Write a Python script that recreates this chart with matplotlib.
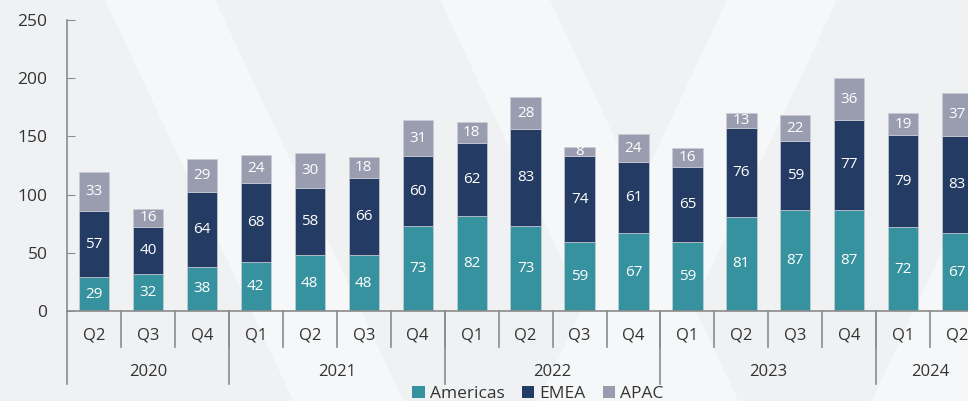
import numpy as np
import matplotlib.pyplot as plt
from matplotlib.patches import Polygon, Patch

plt.rcParams['font.family'] = ['Open Sans', 'DejaVu Sans']

quarters = ['Q2', 'Q3', 'Q4',
            'Q1', 'Q2', 'Q3', 'Q4',
            'Q1', 'Q2', 'Q3', 'Q4',
            'Q1', 'Q2', 'Q3', 'Q4',
            'Q1', 'Q2']
years = ['2020', '2021', '2022', '2023', '2024']
quarters_per_year = [3, 4, 4, 4, 2]

americas = [29, 32, 38, 42, 48, 48, 73, 82, 73, 59, 67, 59, 81, 87, 87, 72, 67]
emea = [57, 40, 64, 68, 58, 66, 60, 62, 83, 74, 61, 65, 76, 59, 77, 79, 83]
apac = [33, 16, 29, 24, 30, 18, 31, 18, 28, 8, 24, 16, 13, 22, 36, 19, 37]

series = [('Americas', americas, '#37929f'),
          ('EMEA', emea, '#243b63'),
          ('APAC', apac, '#9a9db0')]

W, H = 968, 401
bg = '#f0f1f3'
fig = plt.figure(figsize=(W / 100, H / 100), dpi=100, facecolor=bg)

# faint watermark stripes in the background
for x0, slope in [(105, 0.47), (440, 0.47), (727, -0.47), (1060, -0.47)]:
    pts = [(x0, 0), (x0 + 110, 0), (x0 + 110 + slope * H, H), (x0 + slope * H, H)]
    pts = [(px / W, 1 - py / H) for px, py in pts]
    fig.patches.append(Polygon(pts, closed=True, transform=fig.transFigure,
                               facecolor='#f6f7f8', edgecolor='none', zorder=-5))

ax = fig.add_axes([67 / W, (H - 311) / H, (W - 67) / W, 291 / H])
ax.set_facecolor('none')
ax.set_zorder(2)

x = np.arange(len(quarters))
bottom = np.zeros(len(quarters))
for name, vals, col in series:
    vals = np.array(vals)
    ax.bar(x, vals, width=0.56, bottom=bottom, color=col, label=name,
           edgecolor='#c9ccd6', linewidth=0.5, zorder=2)
    for xi, b, v in zip(x, bottom, vals):
        ax.text(xi, b + v / 2, str(v), ha='center', va='center',
                color='white', fontsize=11, zorder=3)
    bottom = bottom + vals

ax.set_xlim(-0.5, 16.2)
ax.set_ylim(0, 250)
ax.set_yticks(range(0, 251, 50))
ax.set_xticks([])
for s in ['top', 'right']:
    ax.spines[s].set_visible(False)
axis_col = '#8c8c8c'
ax.spines['left'].set_color(axis_col)
ax.spines['bottom'].set_color(axis_col)
ax.spines['left'].set_linewidth(1.2)
ax.spines['bottom'].set_linewidth(1.2)
ax.tick_params(axis='y', direction='in', length=6, color=axis_col,
               labelsize=12.5, labelcolor='#333333', pad=14)

# multi-level category axis
tr = ax.get_xaxis_transform()
q_low = -36 / 291
y_low = -73 / 291
for i in range(len(quarters)):
    ax.text(i, -25 / 291, quarters[i], transform=tr, ha='center', va='center',
            fontsize=12, color='#333333')
for b in np.arange(0.5, len(quarters) - 0.5):
    ax.plot([b, b], [0, q_low], transform=tr, color=axis_col, lw=1.2, clip_on=False)
start = 0
for yr, n in zip(years, quarters_per_year):
    ax.plot([start - 0.5, start - 0.5], [0, y_low], transform=tr, color=axis_col,
            lw=1.2, clip_on=False)
    ax.text(start + (n - 1) / 2, -61 / 291, yr, transform=tr, ha='center',
            va='center', fontsize=12, color='#333333')
    start += n

handles = [Patch(facecolor=c, label=n) for n, _, c in series]
fig.legend(handles=handles, loc='center', bbox_to_anchor=(538 / W, 1 - 394 / H),
           ncol=3, frameon=False, fontsize=12.5, handlelength=0.7,
           handleheight=0.7, handletextpad=0.3, columnspacing=1.0,
           labelcolor='#333333')

fig.savefig('out.png', dpi=100, facecolor=bg)
